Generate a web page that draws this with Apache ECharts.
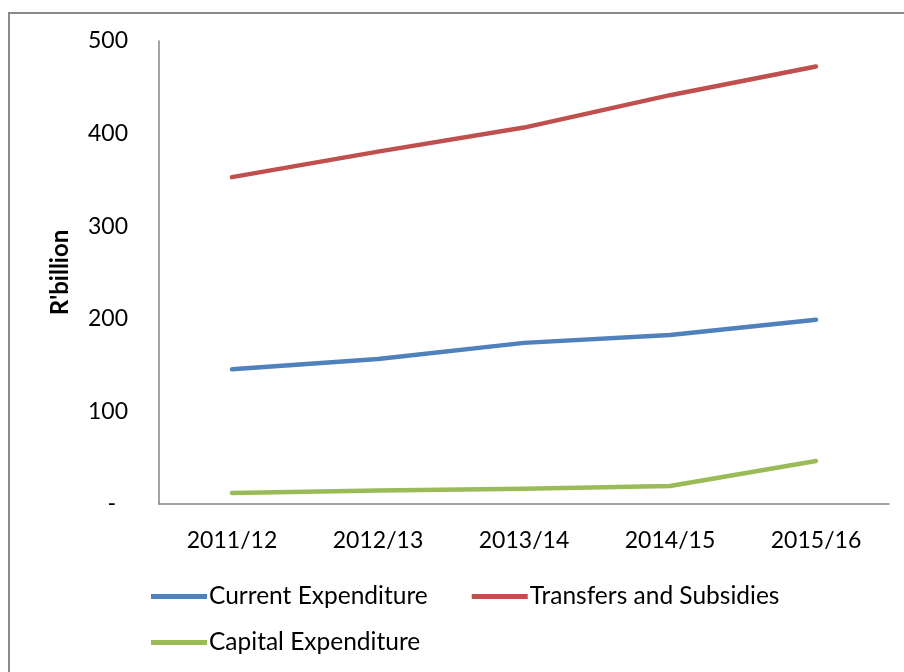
<!DOCTYPE html>
<html><head><meta charset="utf-8">
<script src="https://cdn.jsdelivr.net/npm/echarts@6/dist/echarts.min.js"></script>
<style>html,body{margin:0;padding:0;background:#fff}#c{width:904px;height:672px}</style>
</head><body><div id="c"></div>
<script>
const categories = ['2011/12','2012/13','2013/14','2014/15','2015/16'];
const currentExpenditure = [145.5, 156.5, 174, 182.5, 199];
const transfersSubsidies = [353, 380.5, 406.5, 441.5, 472.5];
const capitalExpenditure = [12, 14.5, 16.5, 19.5, 46.5];
const yTicks = [0, 100, 200, 300, 400, 500];

const FONT = 'Lato';
const chart = echarts.init(document.getElementById('c'), null, {renderer:'canvas'});
const mk = (name, data, color) => ({
  name, type:'line', data, symbol:'none', smooth:false,
  lineStyle:{width:4.5, color, cap:'round', join:'round'}, itemStyle:{color},
  emphasis:{disabled:true}
});
chart.setOption({
  animation:false,
  textStyle:{fontFamily:FONT},
  graphic:[{type:'rect', shape:{x:9, y:13, width:920, height:700}, style:{fill:'none', stroke:'#8a8a8a', lineWidth:2}, silent:true}],
  grid:{left:159, right:15, top:41, bottom:168},
  xAxis:{type:'category', data:categories, boundaryGap:true,
    axisLine:{lineStyle:{color:'#868686', width:1.5}}, axisTick:{show:false},
    axisLabel:{color:'#000', fontSize:23, fontFamily:FONT, margin:25}},
  yAxis:{type:'value', min:yTicks[0], max:yTicks[yTicks.length-1], interval:100,
    name:"R'billion", nameLocation:'middle', nameGap:87, nameRotate:90,
    nameTextStyle:{fontSize:24, fontWeight:'bold', color:'#000', fontFamily:FONT},
    axisLine:{show:true, lineStyle:{color:'#868686', width:1.5}}, axisTick:{show:false},
    splitLine:{show:false},
    axisLabel:{color:'#000', fontSize:23, fontFamily:FONT, margin:31,
      formatter:v => v===0 ? '{z|-}' : String(v),
      rich:{z:{fontSize:23, fontFamily:FONT, color:'#000', padding:[0,12,0,0]}}}},
  legend:[
    {data:['Current Expenditure','Transfers and Subsidies'], left:146, top:579, icon:'rect', itemWidth:56, itemHeight:5, itemGap:44,
      textStyle:{fontSize:24.5, color:'#000', fontFamily:FONT, padding:[0,0,0,-3]}, selectedMode:false},
    {data:['Capital Expenditure'], left:146, top:625, icon:'rect', itemWidth:56, itemHeight:5,
      textStyle:{fontSize:24.5, color:'#000', fontFamily:FONT, padding:[0,0,0,-3]}, selectedMode:false}
  ],
  series:[
    mk('Current Expenditure', currentExpenditure, '#4F81BD'),
    mk('Transfers and Subsidies', transfersSubsidies, '#C0504D'),
    mk('Capital Expenditure', capitalExpenditure, '#9BBB59')
  ]
});
</script></body></html>
